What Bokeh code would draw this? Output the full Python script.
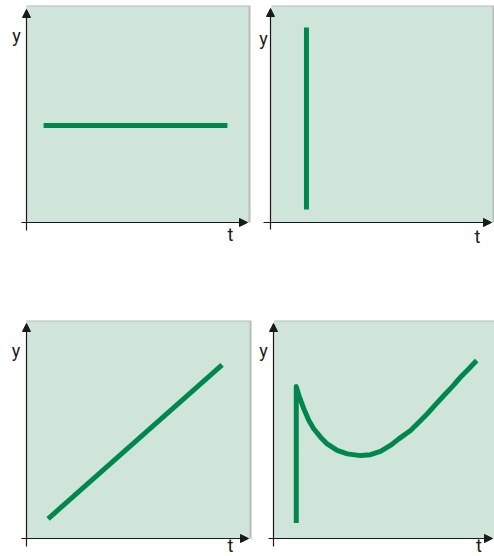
from bokeh.plotting import figure
from bokeh.layouts import column, row
from bokeh.models import Range1d, BoxAnnotation, Arrow, NormalHead, Label
from bokeh.embed import file_html
from bokeh.resources import INLINE

# ---------------- data (t, y in axis units 0..10) ----------------
Y_LABEL = "y"
T_LABEL = "t"

# panel 1: constant y
p1_t = [0.77, 9.05]
p1_y = [4.49, 4.49]
# panel 2: vertical jump at one instant
p2_t = [1.62, 1.62]
p2_y = [0.60, 9.03]
# panel 3: linear growth
p3_t = [0.97, 8.77]
p3_y = [0.91, 8.00]
# panel 4: jump, decay to a minimum, then rise
p4_t = [1.03, 1.03, 1.15, 1.37, 1.60, 1.82, 2.13, 2.43, 2.88, 3.34, 3.94, 4.39, 4.84,
        5.29, 5.67, 6.20, 6.58, 6.96, 7.33, 7.71, 8.09, 8.46, 8.84, 9.19]
p4_y = [0.71, 7.00, 6.59, 5.98, 5.44, 5.06, 4.67, 4.36, 4.06, 3.90, 3.82, 3.86, 4.01,
        4.29, 4.59, 4.98, 5.36, 5.75, 6.17, 6.59, 7.00, 7.43, 7.82, 8.20]

# ---------------- styling ----------------
BG = "#d0e5da"
SHADOW = "#b8bcba"
GREEN = "#00874c"
AX = "#1a1a1a"
FONT = "Roboto"
FONT_SIZE = "18px"

# panel geometry in page pixels (layout only); label positions are glyph centres
GEOM = [
    dict(ox=26, oy=222, bgL=26, bgR=248, bgT=6, ytip=9, ybot=230, xleft=21, xtip=247,
         ylab=(16, 34.5), tlab=(230, 234)),
    dict(ox=270, oy=222, bgL=271, bgR=492, bgT=6, ytip=8, ybot=229, xleft=263, xtip=491,
         ylab=(263, 38), tlab=(477, 235.5)),
    dict(ox=26, oy=538, bgL=26, bgR=249, bgT=321, ytip=323, ybot=546, xleft=21, xtip=248,
         ylab=(15.5, 350), tlab=(230, 545)),
    dict(ox=273, oy=538, bgL=274, bgR=494, bgT=321, ytip=323, ybot=546, xleft=268, xtip=492,
         ylab=(263, 350), tlab=(478.5, 545)),
]

# page boxes of the four figures (left, top, width, height)
BOXES = [(0, 0, 255, 282), (255, 0, 239, 282), (0, 282, 255, 274), (255, 282, 239, 274)]


def make_panel(g, box, t, yv):
    FL, FT, W, H = box
    ox, oy = g["ox"], g["oy"]
    sx = (g["bgR"] - ox) / 10.0
    sy = (oy - g["bgT"]) / 10.0

    def ux(px):
        return (px - ox) / sx

    def uy(py):
        return (oy - py) / sy

    p = figure(width=W, height=H,
               x_range=Range1d(ux(FL), ux(FL + W)),
               y_range=Range1d(uy(FT + H), uy(FT)),
               output_backend="svg", toolbar_location=None, min_border=0,
               x_axis_location=None, y_axis_location=None,
               outline_line_color=None, background_fill_color="white",
               border_fill_color="white")
    p.grid.visible = False

    p.add_layout(BoxAnnotation(left=ux(g["bgL"]), right=ux(g["bgR"] + 2),
                               bottom=0, top=uy(g["bgT"] - 1),
                               fill_color=SHADOW, fill_alpha=1, line_color=None,
                               level="underlay"))
    p.add_layout(BoxAnnotation(left=ux(g["bgL"]), right=ux(g["bgR"]),
                               bottom=0, top=uy(g["bgT"]),
                               fill_color=BG, fill_alpha=1, line_color=None,
                               level="underlay"))

    p.line(t, yv, line_width=5, line_color=GREEN, line_cap="butt", line_join="round")

    p.add_layout(Arrow(end=NormalHead(size=8, fill_color=AX, line_color=AX, line_width=1),
                       x_start=ux(g["xleft"]), y_start=0, x_end=ux(g["xtip"]), y_end=0,
                       line_width=1.2, line_color=AX))
    p.add_layout(Arrow(end=NormalHead(size=8, fill_color=AX, line_color=AX, line_width=1),
                       x_start=0, y_start=uy(g["ybot"]), x_end=0, y_end=uy(g["ytip"]),
                       line_width=1.2, line_color=AX))

    lx, ly = g["ylab"]
    p.add_layout(Label(x=ux(lx), y=uy(ly), text=Y_LABEL, text_align="center",
                       text_baseline="middle", text_font=FONT,
                       text_font_size=FONT_SIZE, text_color=AX))
    tx, ty = g["tlab"]
    p.add_layout(Label(x=ux(tx), y=uy(ty), text=T_LABEL, text_align="center",
                       text_baseline="middle", text_font=FONT,
                       text_font_size=FONT_SIZE, text_color=AX))
    return p


series = [(p1_t, p1_y), (p2_t, p2_y), (p3_t, p3_y), (p4_t, p4_y)]
figs = [make_panel(GEOM[i], BOXES[i], *series[i]) for i in range(4)]

layout = column(row(figs[0], figs[1], spacing=0), row(figs[2], figs[3], spacing=0), spacing=0)

open("out.html", "w").write(file_html(layout, INLINE))
